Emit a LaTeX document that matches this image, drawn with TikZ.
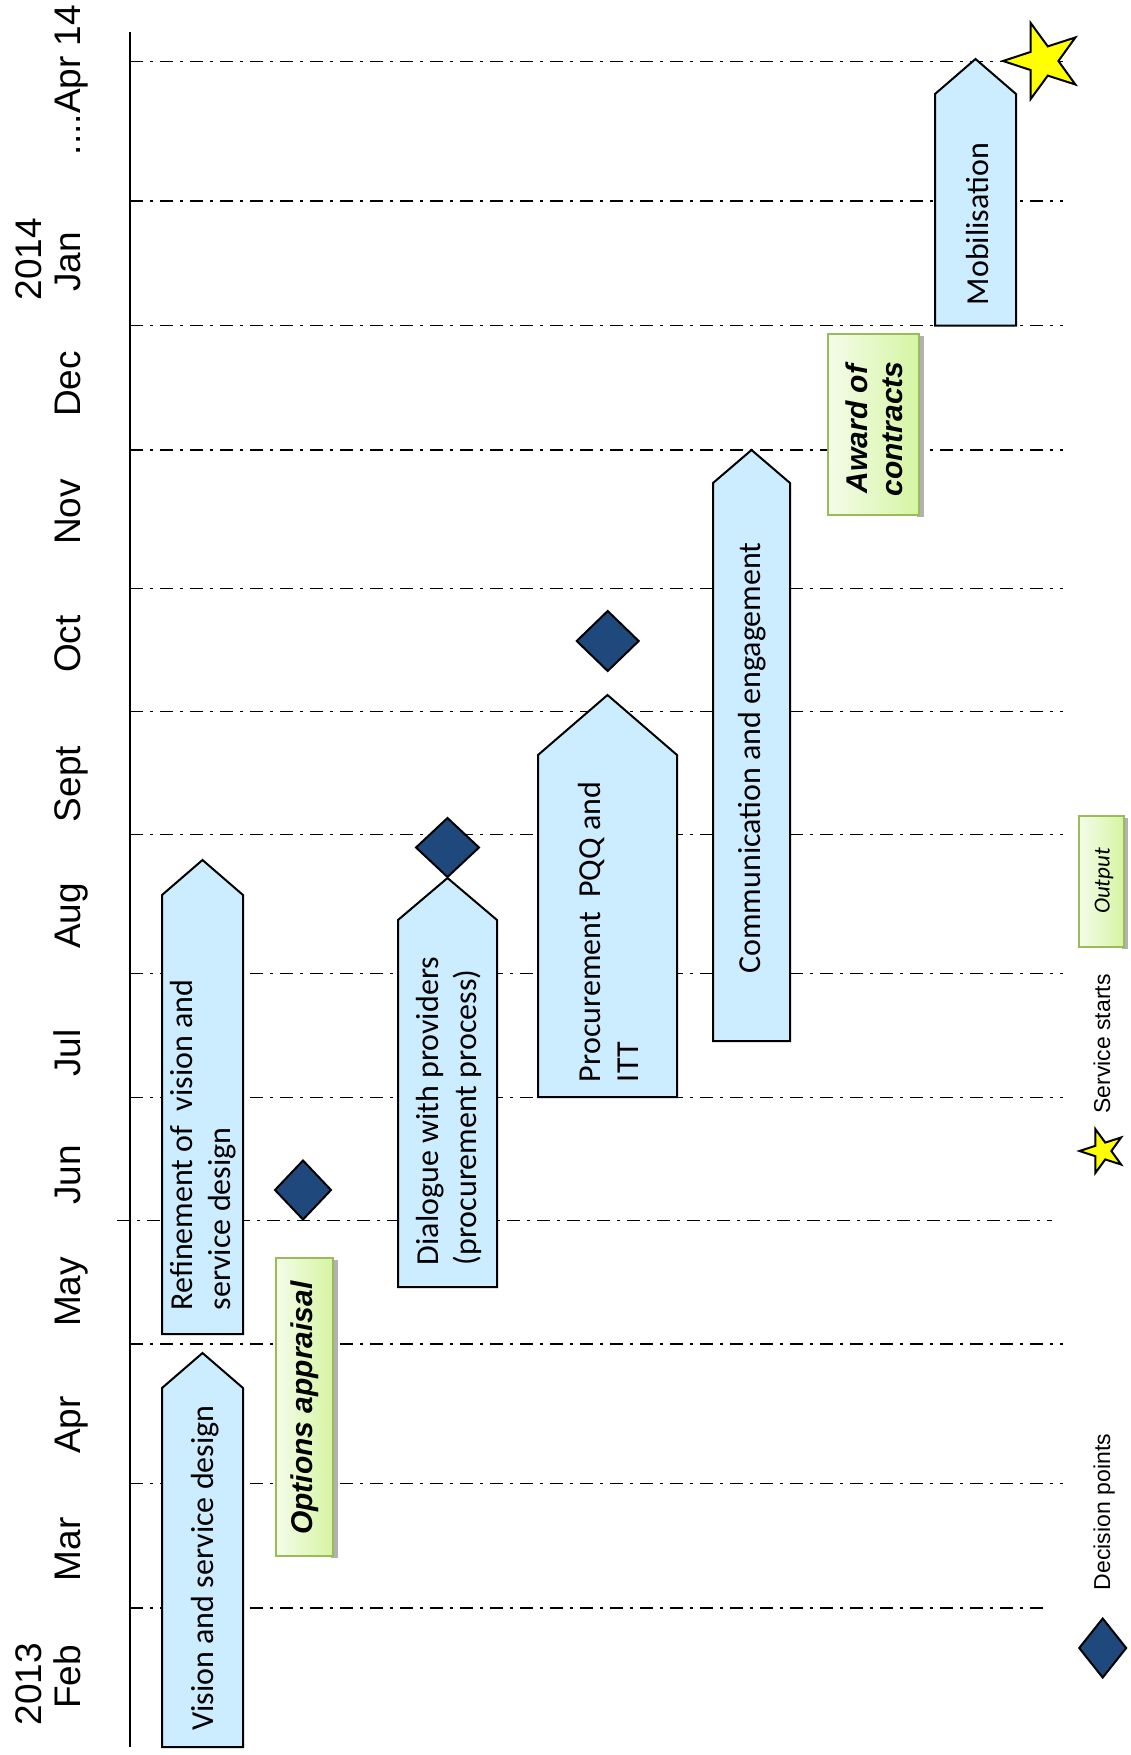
\documentclass[tikz,border=0pt]{standalone}
\usepackage{fontspec}
\setmainfont{Liberation Sans}
\newfontfamily\carl{Carlito}
\usetikzlibrary{shapes.geometric}
\definecolor{boxblue}{HTML}{CCECFF}
\definecolor{decblue}{HTML}{1F497D}
\definecolor{gborder}{HTML}{9BBB59}
\definecolor{glight}{HTML}{F4FCE9}
\definecolor{gdark}{HTML}{D5F5A2}
\definecolor{starfill}{HTML}{FFFF00}
\tikzset{
 gridline/.style={line width=1.6pt, dash pattern=on 13pt off 7pt on 3pt off 7pt},
 axisline/.style={line width=2pt},
 monthlbl/.style={rotate=90, anchor=base, inner sep=0pt, font=\fontsize{37}{38}\selectfont},
 phase/.style={draw=black, line width=2pt, fill=boxblue, line join=miter},
 phasetxt/.style={rotate=90, inner sep=0pt, font=\carl\fontsize{32}{38}\selectfont, align=left},
 decision/.style={diamond, draw=black, line width=2pt, fill=decblue, inner sep=0pt, outer sep=0pt},
 outbox/.style={draw=gborder, line width=2.5pt, left color=glight, right color=gdark},
 outshadow/.style={fill=gray!60, draw=none},
 outtxt/.style={rotate=90, inner sep=0pt, font=\bfseries\itshape\fontsize{30}{35}\selectfont, align=center},
 startstar/.style={star, star points=5, star point ratio=2.6, shape border rotate=90, draw=black, line width=2pt, fill=starfill, inner sep=0pt},
 legendtxt/.style={rotate=90, anchor=base, inner sep=0pt, font=\fontsize{23}{26}\selectfont},
}
\begin{document}
\begin{tikzpicture}[x=1pt,y=-1pt]
\useasboundingbox (0,0) rectangle (1130,1755);
% grid lines
\foreach \yy in {61.5,201,325.6,449.8,588.5,711.6,834.6,973.4,1097.5,1343.7,1483.5}
  \draw[gridline] (130,\yy) -- (1063,\yy);
\draw[gridline] (117,1220.6) -- (1052,1220.6);
\draw[gridline] (130,1607.7) -- (1050,1607.7);
% axis
\draw[axisline] (130,32) -- (130,1747);
% month labels
\node[monthlbl] (mapr14) at (80,80) {....Apr 14};
\node[monthlbl] (mjan) at (80,262) {Jan};
\node[monthlbl] (y2014) at (41,259) {2014};
\node[monthlbl] (mdec) at (80,384) {Dec};
\node[monthlbl] (mnov) at (80,512) {Nov};
\node[monthlbl] (moct) at (80,644) {Oct};
\node[monthlbl] (msep) at (80,784) {Sept};
\node[monthlbl] (maug) at (80,916) {Aug};
\node[monthlbl] (mjul) at (80,1053) {Jul};
\node[monthlbl] (mjun) at (80,1175) {Jun};
\node[monthlbl] (mmay) at (80,1292) {May};
\node[monthlbl] (mapr) at (80,1425) {Apr};
\node[monthlbl] (mmar) at (80,1549.5) {Mar};
\node[monthlbl] (mfeb) at (80,1677) {Feb};
\node[monthlbl] (y2013) at (41,1684) {2013};
% phases
\path[phase] (162,1747) -- (162,1388) -- (202.5,1353) -- (243,1388) -- (243,1747) -- cycle;
\node[phasetxt] (vision) at (205,1568) {Vision and service design};
\path[phase] (162,1334) -- (162,895) -- (202.5,860) -- (243,895) -- (243,1334) -- cycle;
\node[phasetxt] (refine) at (203,1145) {Refinement of\ \ vision and\\service design};
\path[phase] (398,1287) -- (398,920) -- (447.5,878) -- (497,920) -- (497,1287) -- cycle;
\node[phasetxt] (dialogue) at (449,1111) {Dialogue with providers\\(procurement process)};
\path[phase] (538,1097) -- (538,755) -- (607.5,695) -- (677,755) -- (677,1097) -- cycle;
\node[phasetxt] (procure) at (608,932) {Procurement\ \ PQQ and\\ITT};
\path[phase] (713,1041) -- (713,483) -- (751.5,450) -- (790,483) -- (790,1041) -- cycle;
\node[phasetxt] (comms) at (752,758) {Communication and engagement};
\path[phase] (935,325.5) -- (935,94) -- (975.5,59) -- (1016,94) -- (1016,325.5) -- cycle;
\node[phasetxt] (mobil) at (977,224) {Mobilisation};
% decisions
\node[decision, minimum width=56pt, minimum height=59pt] (dec1) at (303,1190) {};
\node[decision, minimum width=63pt, minimum height=59pt] (dec2) at (447.5,847.5) {};
\node[decision, minimum width=62pt, minimum height=60pt] (dec3) at (607.7,641) {};
% outputs
\fill[outshadow] (331,1260) rectangle (337.5,1558);
\path[outbox] (276,1258) rectangle (333,1556);
\node[outtxt] (options) at (304.5,1408) {Options appraisal};
\fill[outshadow] (917,336) rectangle (923.5,517);
\path[outbox] (828,334) rectangle (919,515);
\node[outtxt] (award) at (874,429) {Award of\\contracts};
% service start star
\node[startstar, minimum size=80pt] (start) at (1043,61) {};
% legend
\fill[outshadow] (1122,818) rectangle (1127.5,949);
\path[outbox] (1079,816) rectangle (1124,947);
\node[rotate=90, inner sep=0pt, font=\carl\itshape\fontsize{23}{26}\selectfont] (output) at (1104,881) {Output};
\node[legendtxt] (lstarttxt) at (1110,1044) {Service starts};
\node[startstar, minimum size=46pt] (lstar) at (1102.5,1151) {};
\node[legendtxt] (ldectxt) at (1110,1512) {Decision points};
\node[decision, minimum width=47pt, minimum height=59pt] (ldec) at (1102.7,1648) {};
\end{tikzpicture}
\end{document}
